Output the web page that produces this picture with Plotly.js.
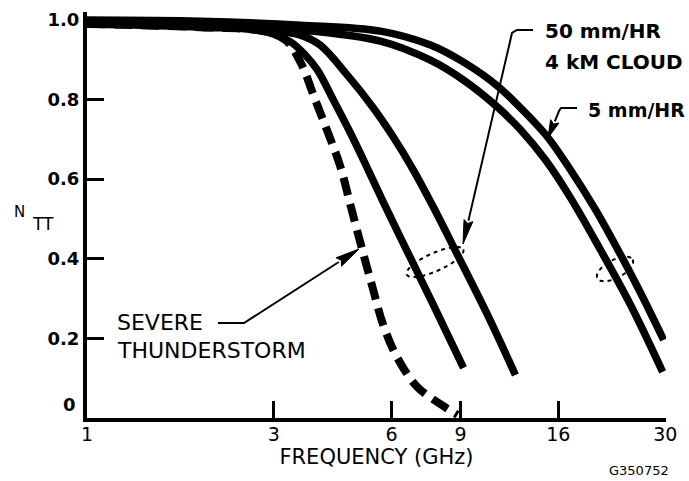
<!DOCTYPE html>
<html>
<head>
<meta charset="utf-8">
<script src="https://cdn.plot.ly/plotly-3.0.1.min.js"></script>
<style>
  html, body { margin: 0; padding: 0; background: #fff; }
  #chart { width: 689px; height: 481px; }
</style>
</head>
<body>
<div id="chart"></div>
<script>
// ---- data ----
const xTickVals = [1, 3, 6, 9, 16, 30];
const xTickText = ['1', '3', '6', '9', '16', '30'];
const yTickVals = [0.2, 0.4, 0.6, 0.8, 1.0];
const yTickText = ['0.2', '0.4', '0.6', '0.8', '1.0'];

// Severe thunderstorm (dashed)
const stormF = [1, 1.95, 2.82, 3.21, 3.51, 3.83, 4.13, 4.44, 4.73, 5.05, 5.36, 5.71, 6.21, 6.98, 7.99, 8.84];
const stormN = [0.990, 0.982, 0.972, 0.950, 0.894, 0.799, 0.716, 0.631, 0.528, 0.422, 0.329, 0.234, 0.151, 0.078, 0.035, 0.008];

// 50 mm/HR, 4 km cloud (two curves)
const rain50aF = [1, 1.95, 2.82, 3.31, 3.61, 3.88, 4.26, 4.71, 5.23, 5.71, 6.82, 7.67, 9.16];
const rain50aN = [0.990, 0.982, 0.972, 0.945, 0.912, 0.874, 0.799, 0.716, 0.623, 0.543, 0.387, 0.284, 0.126];
const rain50bF = [1, 1.95, 2.94, 3.51, 3.94, 4.62, 5.39, 6.06, 6.82, 7.67, 8.84, 10.55, 12.43];
const rain50bN = [0.995, 0.987, 0.975, 0.962, 0.937, 0.862, 0.779, 0.706, 0.623, 0.530, 0.410, 0.259, 0.108];

// 5 mm/HR (two curves)
const rain5aF = [1, 1.95, 3.51, 5.62, 7.54, 9.16, 11.19, 12.81, 14.84, 17.19, 20.51, 24.47, 29.55];
const rain5aN = [0.995, 0.987, 0.975, 0.947, 0.899, 0.849, 0.781, 0.724, 0.648, 0.553, 0.422, 0.284, 0.116];
const rain5bF = [1, 1.95, 3.51, 5.62, 7.54, 9.16, 11.19, 12.81, 15.01, 17.19, 19.92, 23.08, 25.96, 29.73];
const rain5bN = [1.0, 0.997, 0.987, 0.972, 0.937, 0.894, 0.834, 0.779, 0.706, 0.623, 0.523, 0.410, 0.314, 0.196];

// ---- geometry helpers (pixel -> paper) ----
const W = 689, H = 481;
const M = {l: 87, r: 23, t: 12, b: 63};
const PWd = W - M.l - M.r, PHt = H - M.t - M.b;
const px = x => (x - M.l) / PWd;
const py = y => (H - M.b - y) / PHt;
const pt = (x, y) => px(x).toFixed(5) + ',' + py(y).toFixed(5);

function arrowShapes(pts, tip, headLen, headW) {
  const shapes = [];
  const tail = pts[pts.length - 1];
  const dx = tip[0] - tail[0], dy = tip[1] - tail[1];
  const len = Math.hypot(dx, dy);
  const ux = dx / len, uy = dy / len, nx = -uy, ny = ux;
  const bx = tip[0] - ux * headLen, by = tip[1] - uy * headLen;
  let d = 'M' + pt(pts[0][0], pts[0][1]);
  for (let i = 1; i < pts.length; i++) d += ' L' + pt(pts[i][0], pts[i][1]);
  d += ' L' + pt(bx, by);
  shapes.push({type: 'path', xref: 'paper', yref: 'paper', path: d,
    line: {color: '#000', width: 2}});
  const tri = 'M' + pt(tip[0], tip[1]) + ' L' + pt(bx + nx * headW / 2, by + ny * headW / 2) +
    ' L' + pt(bx + ux * 3, by + uy * 3) + ' L' + pt(bx - nx * headW / 2, by - ny * headW / 2) + ' Z';
  shapes.push({type: 'path', xref: 'paper', yref: 'paper', path: tri,
    fillcolor: '#000', line: {color: '#000', width: 1}});
  return shapes;
}

function ellipseShape(cx, cy, a, b, angDeg) {
  const ang = angDeg * Math.PI / 180;
  let d = '';
  for (let i = 0; i <= 48; i++) {
    const t = i / 48 * 2 * Math.PI;
    const ex = a * Math.cos(t), ey = b * Math.sin(t);
    const x = cx + ex * Math.cos(ang) - ey * Math.sin(ang);
    const y = cy + ex * Math.sin(ang) + ey * Math.cos(ang);
    d += (i === 0 ? 'M' : ' L') + pt(x, y);
  }
  return {type: 'path', xref: 'paper', yref: 'paper', path: d + ' Z',
    line: {color: '#000', width: 2, dash: '4px,4px'}};
}

const solid = (f, n, name) => ({
  x: f, y: n, name: name, type: 'scatter', mode: 'lines',
  line: {color: '#000', width: 7.5, shape: 'spline', smoothing: 1},
  hoverinfo: 'skip'
});

const traces = [
  solid(rain5bF, rain5bN, '5 mm/HR (upper)'),
  solid(rain5aF, rain5aN, '5 mm/HR (lower)'),
  solid(rain50bF, rain50bN, '50 mm/HR, 4 km cloud (b)'),
  solid(rain50aF, rain50aN, '50 mm/HR, 4 km cloud (a)'),
  {x: stormF, y: stormN, name: 'Severe thunderstorm', type: 'scatter', mode: 'lines',
   line: {color: '#000', width: 8, dash: '18px,9px', shape: 'spline', smoothing: 1},
   hoverinfo: 'skip'}
];

const boldFont = s => ({family: 'DejaVu Sans', size: s, color: '#000', weight: 'bold'});
const regFont = s => ({family: 'DejaVu Sans', size: s, color: '#000'});

const ann = (text, x, y, font, xa) => ({
  text: text, xref: 'paper', yref: 'paper', x: px(x), y: py(y),
  xanchor: xa || 'left', yanchor: 'middle', showarrow: false, font: font
});

let shapes = [];
shapes = shapes.concat(arrowShapes([[533, 30], [517, 30], [512, 33]], [463, 244], 24, 9));
shapes = shapes.concat(arrowShapes([[577, 108], [561, 108], [559, 111]], [548, 138], 18, 9));
shapes = shapes.concat(arrowShapes([[218, 323], [244, 323]], [359, 249], 24, 10));
shapes.push(ellipseShape(435, 262, 31, 9, -24));
shapes.push(ellipseShape(615, 269, 20, 9, -28));

const layout = {
  width: W, height: H,
  margin: M,
  paper_bgcolor: '#fff', plot_bgcolor: '#fff',
  showlegend: false,
  xaxis: {
    type: 'log', range: [0, Math.log10(30) + 0.002],
    tickvals: xTickVals, ticktext: xTickText,
    ticks: 'inside', ticklen: 17, tickwidth: 3, tickcolor: '#000',
    showline: true, linewidth: 4, linecolor: '#000',
    showgrid: false, zeroline: false,
    tickfont: regFont(19),
    ticklabelstandoff: -4,
    title: {text: 'FREQUENCY (GHz)', font: regFont(21), standoff: 5},
    automargin: false
  },
  yaxis: {
    range: [0, 1.02],
    tickvals: yTickVals, ticktext: yTickText,
    ticks: 'inside', ticklen: 17, tickwidth: 3, tickcolor: '#000',
    showline: true, linewidth: 4, linecolor: '#000',
    showgrid: false, zeroline: false,
    tickfont: boldFont(18),
    automargin: false
  },
  annotations: [
    ann('50 mm/HR', 543, 31, boldFont(20)),
    ann('4 kM CLOUD', 543, 62, boldFont(20)),
    ann('5 mm/HR', 586, 110, boldFont(19)),
    ann('SEVERE', 115, 322, regFont(22)),
    ann('THUNDERSTORM', 115, 350, regFont(22)),
    ann('0', 78, 404, boldFont(18), 'right'),
    ann('N', 19, 212, regFont(15), 'center'),
    ann('TT', 43, 224, regFont(17), 'center'),
    ann('G350752', 639, 470, regFont(13), 'center')
  ],
  shapes: shapes
};

Plotly.newPlot('chart', traces, layout, {staticPlot: true, displayModeBar: false});
</script>
</body>
</html>
